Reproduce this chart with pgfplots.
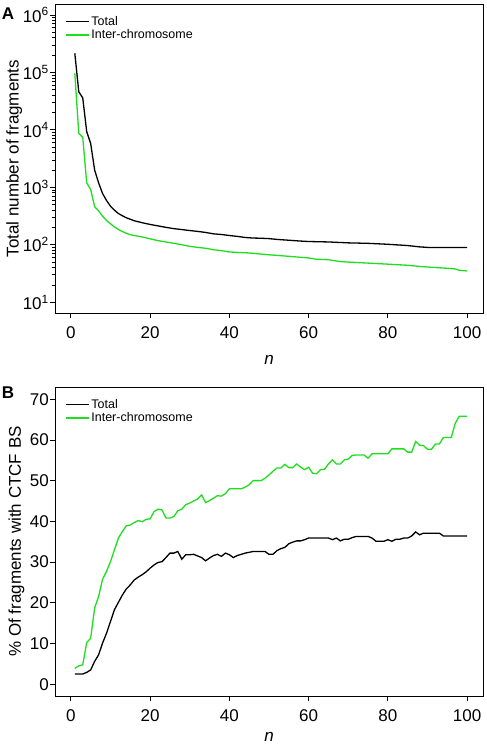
\documentclass[border=0pt]{standalone}
\usepackage{fontspec}
\setmainfont{Liberation Sans}
\usepackage{pgfplots}
\pgfplotsset{compat=1.18}
\definecolor{lgreen}{RGB}{30,222,30}
\begin{document}
\begin{tikzpicture}
\useasboundingbox (0pt,0pt) rectangle (487pt,748pt);
\pgfplotsset{
  every axis/.style={
    scale only axis, width=428pt, height=309pt,
    xmin=-4, xmax=104,
    xtick={0,20,40,60,80,100},
    xtick pos=bottom, ytick pos=left,
    tick align=outside, major tick length=5pt,
    tick style={black, line width=0.8pt},
    axis line style={line width=0.9pt},
    ticklabel style={font=\fontsize{17}{17}\selectfont},
    /pgf/number format/assume math mode=true,
    xticklabel style={yshift=-5pt},
    yticklabel style={inner sep=1pt},
    label style={font=\fontsize{17}{17}\selectfont},
    legend cell align=left,
    legend style={draw=none, fill=none, font=\fontsize{12.5}{12.5}\selectfont,
      at={(0,1)}, anchor=north west, xshift=8pt, yshift=-8pt,
      row sep=-1pt, inner sep=2pt,
      /tikz/every even column/.append style={column sep=5pt}},
    legend image code/.code={\draw[#1, line width=1.2pt] (0pt,0pt) -- (23pt,0pt);},
    xlabel={\itshape n},
  }
}
% Panel A
\begin{axis}[at={(55pt,435pt)}, anchor=south west,
  ymode=log, ymin=6.5, ymax=1.55e6,
  ytick={10,100,1000,10000,100000,1000000},
  yticklabels={10\textsuperscript{1},10\textsuperscript{2},10\textsuperscript{3},10\textsuperscript{4},10\textsuperscript{5},10\textsuperscript{6}},
  ylabel={Total number of fragments},
  ylabel style={yshift=-4pt},
  xlabel style={yshift=-10pt},
]
\addplot[black, line width=1.3pt] coordinates {
(1,215000)(2,46000)(3,36000)(4,9300)(5,5800)(6,2000)(7,1200)(8,780)(9,590)(10,470)
(11,400)(12,350)(13,320)(14,295)(15,278)(16,262)(17,252)(18,242)(19,234)(20,226)
(22,213)(24,201)(26,191)(28,184)(30,177)(32,171)(34,164)(36,155)(38,151)(40,145)
(42,140)(44,134)(46,131)(48,130)(50,128)(52,124)(55,120)(58,116)(60,114)(65,112)
(70,108)(75,106)(80,102)(85,97)(88,92)(90,90)(95,90)(100,90)};
\addlegendentry{Total}
\addplot[lgreen, line width=1.3pt] coordinates {
(1,96000)(2,8700)(3,7400)(4,1200)(5,920)(6,460)(7,390)(8,315)(9,265)(10,232)
(11,205)(12,185)(13,170)(14,158)(15,150)(16,145)(18,137)(20,127)(22,118)(24,112)
(26,106)(28,100)(30,94)(32,90)(34,87)(36,82)(38,79)(40,75)(45,72)(50,67)
(55,63)(60,59)(62,56)(65,55)(68,51)(70,50)(75,48)(80,46)(85,44)(88,42)
(90,41)(95,39)(97,38)(98,36)(100,35)};
\addlegendentry{Inter-chromosome}
\end{axis}
% Panel B
\begin{axis}[at={(55pt,52pt)}, anchor=south west,
  ymin=-2.9, ymax=73,
  ytick={0,10,20,30,40,50,60,70},
  ylabel={\% Of fragments with CTCF BS},
  ylabel style={yshift=1pt},
  xlabel style={yshift=-4pt},
]
\addplot[black, line width=1.3pt] coordinates {
(1,2.5)(2,2.5)(3,2.5)(4,2.9)(5,3.5)(6,5.6)(7,7.2)(8,10.1)(9,12.5)(10,15.4)
(11,18.3)(12,20.1)(13,21.9)(14,23.4)(15,24.4)(16,25.6)(17,26.3)(18,26.9)(19,27.6)(20,28.5)
(21,29.3)(22,29.9)(23,30.1)(24,31.1)(25,32.2)(26,32.2)(27,32.6)(28,30.7)(29,31.8)(30,31.8)
(31,31.9)(32,31.5)(33,31.1)(34,30.3)(35,31.0)(36,31.6)(37,31.9)(38,31.4)(39,32.2)(40,31.8)
(41,31.1)(42,31.6)(43,31.9)(44,32.2)(45,32.4)(46,32.6)(47,32.6)(48,32.6)(49,32.6)(50,31.9)
(51,31.9)(52,32.8)(53,33.3)(54,33.6)(55,34.5)(56,34.9)(57,35.2)(58,35.2)(59,35.5)(60,35.9)
(61,35.9)(62,35.9)(63,35.9)(64,35.9)(65,35.9)(66,35.5)(67,35.9)(68,35.2)(69,35.6)(70,35.6)
(71,36.0)(72,36.3)(73,36.3)(74,36.3)(75,36.3)(76,35.9)(77,35.1)(78,35.1)(79,35.1)(80,35.5)
(81,35.1)(82,35.6)(83,35.6)(84,35.9)(85,35.9)(86,36.4)(87,37.4)(88,36.7)(89,37.1)(90,37.1)
(91,37.1)(92,37.1)(93,37.1)(94,36.4)(95,36.4)(96,36.4)(97,36.4)(98,36.4)(99,36.4)(100,36.4)};
\addlegendentry{Total}
\addplot[lgreen, line width=1.3pt] coordinates {
(1,3.9)(2,4.5)(3,4.75)(4,10.2)(5,11.3)(6,18.7)(7,21.5)(8,25.8)(9,27.7)(10,30.1)
(11,33.0)(12,35.9)(13,37.5)(14,38.9)(15,39.1)(16,39.7)(17,40.2)(18,39.9)(19,40.5)(20,40.6)
(21,42.4)(22,43.0)(23,42.8)(24,40.8)(25,40.8)(26,41.2)(27,42.6)(28,43.0)(29,44.1)(30,44.5)
(31,45.0)(32,45.5)(33,46.5)(34,44.6)(35,45.1)(36,45.7)(37,46.3)(38,46.2)(39,46.8)(40,48.0)
(41,48.0)(42,48.0)(43,48.0)(44,48.4)(45,49.0)(46,50.0)(47,50.0)(48,50.0)(49,50.6)(50,51.4)
(51,52.3)(52,53.1)(53,53.1)(54,54.0)(55,53.2)(56,53.2)(57,54.1)(58,53.3)(59,52.7)(60,53.3)
(61,51.8)(62,51.7)(63,52.7)(64,52.8)(65,54.1)(66,55.1)(67,54.1)(68,54.1)(69,55.1)(70,55.3)
(71,56.2)(72,56.3)(73,56.3)(74,56.3)(75,55.5)(76,56.6)(77,56.6)(78,56.6)(79,56.6)(80,56.6)
(81,57.8)(82,57.8)(83,57.8)(84,57.8)(85,57.0)(86,57.0)(87,59.6)(88,58.7)(89,58.6)(90,57.7)
(91,57.7)(92,59.0)(93,59.0)(94,60.6)(95,60.6)(96,60.6)(97,64.1)(98,65.8)(99,65.8)(100,65.8)};
\addlegendentry{Inter-chromosome}
\end{axis}
\node[font=\bfseries\fontsize{17}{17}\selectfont, anchor=center] at (8pt,734pt) {A};
\node[font=\bfseries\fontsize{17}{17}\selectfont, anchor=center] at (8pt,355pt) {B};
\end{tikzpicture}
\end{document}
